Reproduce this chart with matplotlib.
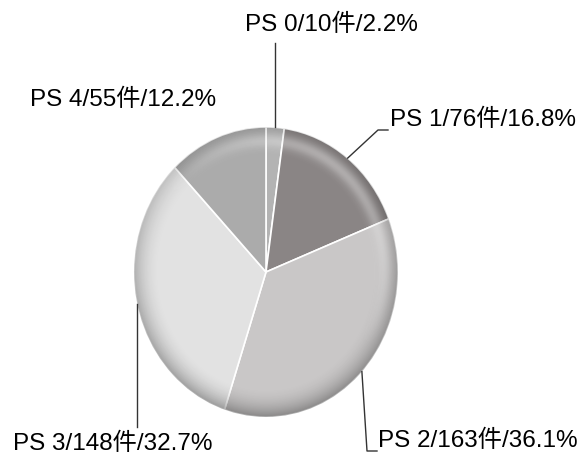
import numpy as np
import matplotlib.pyplot as plt
from matplotlib import font_manager
from matplotlib.patches import Circle

# Data
labels = ["PS 0", "PS 1", "PS 2", "PS 3", "PS 4"]
counts = [10, 76, 163, 148, 55]
percents = [2.2, 16.8, 36.1, 32.7, 12.2]
colors = ["#b3b3b3", "#8a8585", "#c9c7c7", "#e2e2e2", "#ababab"]

W, H = 585, 459
SY = 145 / 132          # pie is a bit taller than wide
CX, CY_PX, R = 266, 272, 132

names = {f.name for f in font_manager.fontManager.ttflist}
if "Liberation Sans Narrow" in names:
    FAM = ["Liberation Sans Narrow", "Noto Sans CJK JP"]
    FS = 18.5
else:
    FAM = ["Liberation Sans", "Noto Sans CJK JP"]
    FS = 17.5
plt.rcParams["font.family"] = FAM


def py(ypx):
    """pixel row -> data y"""
    return (H - ypx) / SY


fig = plt.figure(figsize=(W / 100, H / 100), dpi=100)
ax = fig.add_axes([0, 0, 1, 1])

cy = py(CY_PX)
wedges, _ = ax.pie(counts, colors=colors, startangle=90, counterclock=False,
                   center=(CX, cy), radius=R, frame=True,
                   wedgeprops=dict(edgecolor="white", linewidth=1.2))

# soft rim shading to mimic the bevelled look
n = 400
xs = np.linspace(CX - R, CX + R, n)
ys = np.linspace(cy - R, cy + R, n)
gx, gy = np.meshgrid(xs, ys)
rr = np.hypot(gx - CX, gy - cy) / R
ang = np.arctan2(gy - cy, gx - CX)
dark = np.clip((rr - 0.80) / 0.20, 0, 1) ** 2 * (0.22 + 0.10 * np.sin(-ang))
light = np.exp(-((rr - 0.90) / 0.05) ** 2) * 0.35 * np.clip(np.sin(ang + 0.6), 0, 1)

shade = np.zeros((n, n, 4))
shade[..., 3] = np.clip(dark, 0, 1)
hl = np.zeros((n, n, 4))
hl[..., :3] = 1.0
hl[..., 3] = np.clip(light, 0, 1)
for img in (shade, hl):
    im = ax.imshow(img, extent=(CX - R, CX + R, cy - R, cy + R), origin="lower",
                   interpolation="bilinear", aspect="auto", zorder=3)
    im.set_clip_path(Circle((CX, cy), R, transform=ax.transData))

ax.set_xlim(0, W)
ax.set_ylim(0, H / SY)
ax.set_aspect("auto")
ax.axis("off")


def edge_point(w):
    th = np.deg2rad((w.theta1 + w.theta2) / 2)
    return CX + R * np.cos(th), cy + R * np.sin(th)


texts = [f"{l}/{c}件/{p}%" for l, c, p in zip(labels, counts, percents)]
lc = dict(color="#333333", lw=1.0, zorder=4)

# PS 0: straight up
x0, y0 = edge_point(wedges[0])
ax.plot([x0, x0], [y0, py(43)], **lc)
ax.text(245, py(36), texts[0], ha="left", va="bottom", fontsize=FS)

# PS 1: diagonal then short horizontal
x1, y1 = edge_point(wedges[1])
ax.plot([x1, 378, 388], [y1, py(130), py(130)], **lc)
ax.text(390, py(131), texts[1], ha="left", va="bottom", fontsize=FS)

# PS 2: down then short horizontal
x2, y2 = edge_point(wedges[2])
ax.plot([x2, 367, 377], [y2, py(451), py(451)], **lc)
ax.text(378, py(452), texts[2], ha="left", va="bottom", fontsize=FS)

# PS 3: straight down
x3, y3 = edge_point(wedges[3])
ax.plot([x3, x3], [y3, py(427)], **lc)
ax.text(13, py(455), texts[3], ha="left", va="bottom", fontsize=FS)

# PS 4: no leader
ax.text(30, py(111), texts[4], ha="left", va="bottom", fontsize=FS)

fig.savefig("out.png", dpi=100)
